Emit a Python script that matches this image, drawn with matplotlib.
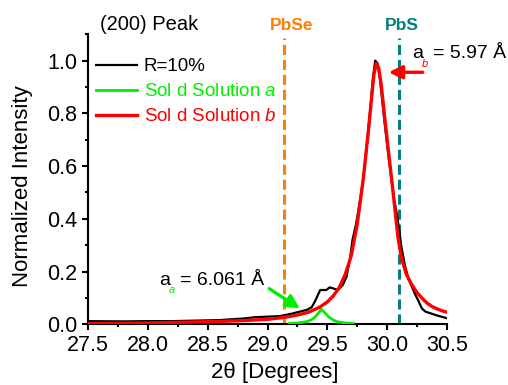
import numpy as np
import matplotlib
matplotlib.use("Agg")
import matplotlib.pyplot as plt
from matplotlib.ticker import MultipleLocator

plt.rcParams['font.family'] = ['Liberation Sans', 'DejaVu Sans']
plt.rcParams['mathtext.fontset'] = 'custom'
plt.rcParams['mathtext.it'] = 'Liberation Sans:italic'
plt.rcParams['mathtext.rm'] = 'Liberation Sans'

# measured XRD (200) peak, R=10%
meas_x = [27.5, 27.8, 28.0, 28.2, 28.4, 28.6, 28.8, 28.9, 29.0, 29.1, 29.2, 29.27,
          29.33, 29.37, 29.40, 29.44, 29.49, 29.52, 29.55, 29.59, 29.63, 29.66,
          29.69, 29.71, 29.74, 29.77, 29.80, 29.83, 29.86, 29.88, 29.90, 29.92,
          29.94, 29.97, 30.00, 30.03, 30.06, 30.08, 30.10, 30.12, 30.15, 30.18,
          30.20, 30.23, 30.26, 30.29, 30.32, 30.36, 30.42, 30.5]
meas_y = [0.012, 0.011, 0.012, 0.012, 0.014, 0.016, 0.022, 0.027, 0.029, 0.031, 0.040, 0.048,
          0.055, 0.065, 0.09, 0.13, 0.13, 0.14, 0.136, 0.13, 0.15, 0.18,
          0.25, 0.32, 0.38, 0.46, 0.55, 0.68, 0.82, 0.93, 1.0, 0.99,
          0.93, 0.80, 0.68, 0.57, 0.47, 0.42, 0.36, 0.29, 0.22, 0.17,
          0.15, 0.117, 0.09, 0.06, 0.048, 0.042, 0.033, 0.023]

# solid solution a (small component)
sol_a_x = [29.18, 29.25, 29.33, 29.37, 29.40, 29.43, 29.45, 29.47, 29.51, 29.55, 29.58, 29.65, 29.72]
sol_a_y = [0.003, 0.005, 0.010, 0.018, 0.029, 0.045, 0.057, 0.048, 0.029, 0.016, 0.010, 0.005, 0.003]

# solid solution b (main component)
sol_b_x = [27.5, 27.8, 28.0, 28.2, 28.4, 28.6, 28.8, 29.0, 29.14, 29.27, 29.35, 29.44,
           29.50, 29.55, 29.60, 29.65, 29.70, 29.75, 29.80, 29.84, 29.87, 29.89,
           29.91, 29.93, 29.95, 29.99, 30.04, 30.09, 30.12, 30.16, 30.20, 30.25,
           30.30, 30.34, 30.38, 30.42, 30.46, 30.5]
sol_b_y = [0.003, 0.004, 0.005, 0.007, 0.009, 0.011, 0.014, 0.019, 0.026, 0.037, 0.047, 0.066,
           0.085, 0.108, 0.14, 0.19, 0.26, 0.38, 0.55, 0.72, 0.86, 0.95,
           0.99, 0.97, 0.91, 0.74, 0.54, 0.33, 0.25, 0.19, 0.155, 0.12,
           0.095, 0.078, 0.066, 0.058, 0.051, 0.046]

pbse_pos = 29.14
pbs_pos = 30.10

W, H = 508, 385
fig = plt.figure(figsize=(W / 100, H / 100), dpi=100)
ax = fig.add_axes([88 / W, 1 - 324.3 / H, 359 / W, 290 / H])

ax.plot(meas_x, meas_y, color='black', lw=1.6, label='R=10%', zorder=3)
ax.plot(sol_a_x, sol_a_y, color='#00EE00', lw=2.0, label='Sol d Solution $\\mathit{a}$', zorder=4)
ax.plot(sol_b_x, sol_b_y, color='#FF0000', lw=2.4, label='Sol d Solution $\\mathit{b}$', zorder=4)

ax.plot([pbse_pos, pbse_pos], [0, 1.085], color='#FF8000', lw=2.2, dashes=(3.3, 1.6), zorder=2)
ax.plot([pbs_pos, pbs_pos], [0, 1.085], color='#008080', lw=2.2, dashes=(3.3, 1.6), zorder=2)

ax.set_xlim(27.5, 30.5)
ax.set_ylim(0, 1.1)
ax.xaxis.set_major_locator(MultipleLocator(0.5))
ax.xaxis.set_minor_locator(MultipleLocator(0.25))
ax.yaxis.set_major_locator(MultipleLocator(0.2))
ax.yaxis.set_minor_locator(MultipleLocator(0.1))
ax.spines['top'].set_visible(False)
ax.spines['right'].set_visible(False)
for s in ['left', 'bottom']:
    ax.spines[s].set_linewidth(1.5)
ax.tick_params(which='major', length=4.5, width=1.5, labelsize=15.5, pad=3)
ax.tick_params(which='minor', length=2.5, width=1.5)

ax.set_xlabel('2θ [Degrees]', fontsize=16)
ax.set_ylabel('Normalized Intensity', fontsize=16)
ax.xaxis.set_label_coords((275 - 88) / 359, -(383 - 324.3) / 290)
ax.yaxis.set_label_coords(-(88 - 12) / 359, (324.3 - 186) / 290)
ax.xaxis.label.set_va('bottom')
ax.yaxis.label.set_va('top')

leg = ax.legend(loc='upper left', bbox_to_anchor=(96 / W, 1 - 58 / H), bbox_transform=fig.transFigure,
                frameon=False, fontsize=13.5, handlelength=2.2, handletextpad=0.35,
                labelspacing=0.42, borderpad=0, borderaxespad=0)
for txt, c in zip(leg.get_texts(), ['black', '#00EE00', '#FF0000']):
    txt.set_color(c)

fig.text(100 / W, 1 - 25 / H, '(200) Peak', fontsize=14.5, va='center', ha='left')
fig.text(292 / W, 1 - 26 / H, 'PbSe', fontsize=12.5, fontweight='bold', color='#FF8000', va='center', ha='center')
fig.text(402 / W, 1 - 26 / H, 'PbS', fontsize=12.5, fontweight='bold', color='#008080', va='center', ha='center')

# a_b label and arrow
fig.text(412 / W, 1 - 58 / H, 'a', fontsize=14, va='baseline', ha='left')
fig.text(422 / W, 1 - 67 / H, 'b', fontsize=8, style='italic', color='#FF0000', va='baseline', ha='left')
fig.text(433 / W, 1 - 58 / H, '= 5.97 Å', fontsize=14, va='baseline', ha='left')
ax.annotate('', xy=(29.99, 0.956), xytext=(30.32, 0.956),
            arrowprops=dict(arrowstyle='-|>', color='#FF0000', lw=2.4, mutation_scale=20))

# a_a label and arrow
fig.text(159 / W, 1 - 285 / H, 'a', fontsize=14, va='baseline', ha='left')
fig.text(169 / W, 1 - 293 / H, 'a', fontsize=8, style='italic', color='#00EE00', va='baseline', ha='left')
fig.text(180 / W, 1 - 285 / H, '= 6.061 Å', fontsize=14, va='baseline', ha='left')
ax.annotate('', xy=(29.29, 0.054), xytext=(28.995, 0.141),
            arrowprops=dict(arrowstyle='-|>', color='#00EE00', lw=2.4, mutation_scale=20))

fig.savefig('out.png', dpi=100)
